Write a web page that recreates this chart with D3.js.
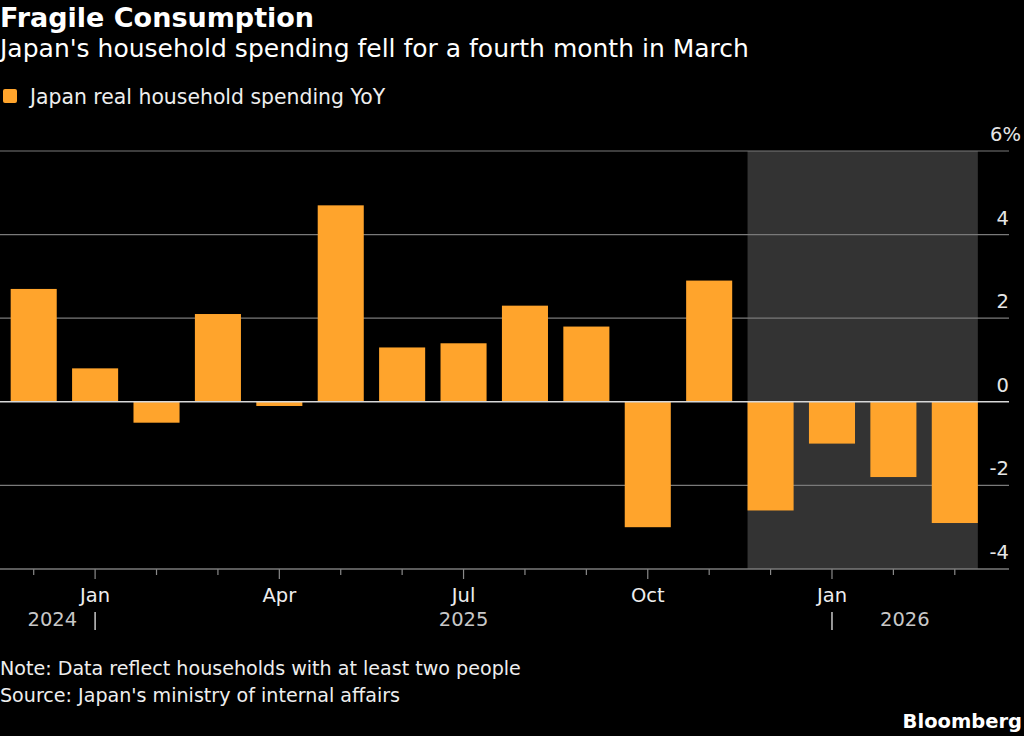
<!DOCTYPE html>
<html>
<head>
<meta charset="utf-8">
<script src="https://cdn.jsdelivr.net/npm/d3@7"></script>
<style>
  body { margin: 0; background: #000; }
  svg { display: block; }
  text { font-family: "DejaVu Sans", sans-serif; }
</style>
</head>
<body>
<script>
// data
var months = ["Dec 2024", "Jan 2025", "Feb 2025", "Mar 2025", "Apr 2025", "May 2025", "Jun 2025", "Jul 2025",
  "Aug 2025", "Sep 2025", "Oct 2025", "Nov 2025", "Dec 2025", "Jan 2026", "Feb 2026", "Mar 2026"];
var spending = [2.7, 0.8, -0.5, 2.1, -0.1, 4.7, 1.3, 1.4, 2.3, 1.8, -3.0, 2.9, -2.6, -1.0, -1.8, -2.9];
var monthLabels = {"Jan 2025": "Jan", "Apr 2025": "Apr", "Jul 2025": "Jul", "Oct 2025": "Oct", "Jan 2026": "Jan"};
var yTicks = [-4, -2, 0, 2, 4, 6];
var shaded = ["Dec 2025", "Mar 2026"];

var width = 1024, height = 736;
var orange = "#ffa42c";

var svg = d3.select("body").append("svg")
  .attr("width", width)
  .attr("height", height);

svg.append("rect").attr("width", width).attr("height", height).attr("fill", "#000");

var x = d3.scaleBand()
  .domain(months)
  .range([3, 985.5])
  .paddingInner(0.25)
  .paddingOuter(0.125);

var y = d3.scaleLinear()
  .domain([-4, 6])
  .range([569, 151]);

var gridRight = 1009;

// shaded span
svg.append("rect")
  .attr("x", x(shaded[0]))
  .attr("y", y(6))
  .attr("width", x(shaded[1]) + x.bandwidth() - x(shaded[0]))
  .attr("height", y(-4) - y(6))
  .attr("fill", "#333333");

// gridlines
svg.append("g")
  .selectAll("line")
  .data(yTicks.filter(d => d !== 0))
  .join("line")
  .attr("x1", 0)
  .attr("x2", gridRight)
  .attr("y1", d => y(d))
  .attr("y2", d => y(d))
  .attr("stroke", "#7a7a7a")
  .attr("stroke-width", 1.2);

// y labels (top one carries the unit)
var yMax = d3.max(yTicks);
svg.append("g")
  .selectAll("text")
  .data(yTicks)
  .join("text")
  .attr("x", d => d === yMax ? 1021 : gridRight)
  .attr("y", d => y(d) - 10)
  .attr("text-anchor", "end")
  .attr("fill", "#e6e6e6")
  .style("font-size", "19.5px")
  .text(d => d === yMax ? d + "%" : d);

// bars
svg.append("g")
  .selectAll("rect")
  .data(months)
  .join("rect")
  .attr("x", d => x(d))
  .attr("width", x.bandwidth())
  .attr("y", (d, i) => y(Math.max(0, spending[i])))
  .attr("height", (d, i) => Math.abs(y(spending[i]) - y(0)))
  .attr("fill", orange);

// zero line
svg.append("line")
  .attr("x1", 0).attr("x2", gridRight)
  .attr("y1", y(0)).attr("y2", y(0))
  .attr("stroke", "#d8d8d8")
  .attr("stroke-width", 1.6);

// x axis
var xAxis = d3.axisBottom(x)
  .tickSize(0)
  .tickFormat(d => monthLabels[d] || "");

var gx = svg.append("g")
  .attr("transform", `translate(0, ${y(-4)})`)
  .call(xAxis);
gx.select(".domain").remove();
gx.selectAll(".tick line")
  .attr("y2", d => monthLabels[d] ? 10 : 6)
  .attr("stroke", "#8a8a8a")
  .attr("stroke-width", 1.2);
gx.selectAll(".tick text")
  .attr("y", 33)
  .attr("dy", 0)
  .attr("fill", "#eeeeee")
  .style("font-size", "19.5px")
  .attr("font-family", null);

svg.append("line")
  .attr("x1", 0).attr("x2", gridRight)
  .attr("y1", y(-4)).attr("y2", y(-4))
  .attr("stroke", "#7a7a7a")
  .attr("stroke-width", 1.2);

// year labels
var cx = d => x(d) + x.bandwidth() / 2;
var yearY = 626;
svg.append("text").attr("x", cx("Jan 2025") - 18).attr("y", yearY)
  .attr("text-anchor", "end").attr("fill", "#c8c8c8").style("font-size", "19.5px").text("2024");
svg.append("text").attr("x", cx("Jul 2025")).attr("y", yearY)
  .attr("text-anchor", "middle").attr("fill", "#c8c8c8").style("font-size", "19.5px").text("2025");
svg.append("text").attr("x", cx("Jan 2026") + 48).attr("y", yearY)
  .attr("fill", "#c8c8c8").style("font-size", "19.5px").text("2026");
svg.append("g")
  .selectAll("line")
  .data(["Jan 2025", "Jan 2026"])
  .join("line")
  .attr("x1", cx).attr("x2", cx)
  .attr("y1", 612).attr("y2", 630)
  .attr("stroke", "#c8c8c8")
  .attr("stroke-width", 1.5);

// titles
svg.append("text").attr("x", 0).attr("y", 27)
  .attr("fill", "#fff")
  .style("font-weight", "bold")
  .style("font-size", "27px")
  .text("Fragile Consumption");
svg.append("text").attr("x", 0).attr("y", 57)
  .attr("fill", "#fff")
  .style("font-size", "25px")
  .text("Japan's household spending fell for a fourth month in March");

// legend
svg.append("rect").attr("x", 3).attr("y", 89).attr("width", 14).attr("height", 14)
  .attr("rx", 2).attr("fill", orange);
svg.append("text").attr("x", 30).attr("y", 104)
  .attr("fill", "#eee")
  .style("font-size", "20.4px")
  .text("Japan real household spending YoY");

// notes
svg.append("text").attr("x", 0).attr("y", 675)
  .attr("fill", "#eee").style("font-size", "19.1px")
  .text("Note: Data reflect households with at least two people");
svg.append("text").attr("x", 0).attr("y", 702)
  .attr("fill", "#eee").style("font-size", "19.1px")
  .text("Source: Japan's ministry of internal affairs");

svg.append("text").attr("x", 1022).attr("y", 728)
  .attr("text-anchor", "end")
  .attr("fill", "#fff")
  .style("font-weight", "bold")
  .style("font-size", "19.5px")
  .text("Bloomberg");
</script>
</body>
</html>
